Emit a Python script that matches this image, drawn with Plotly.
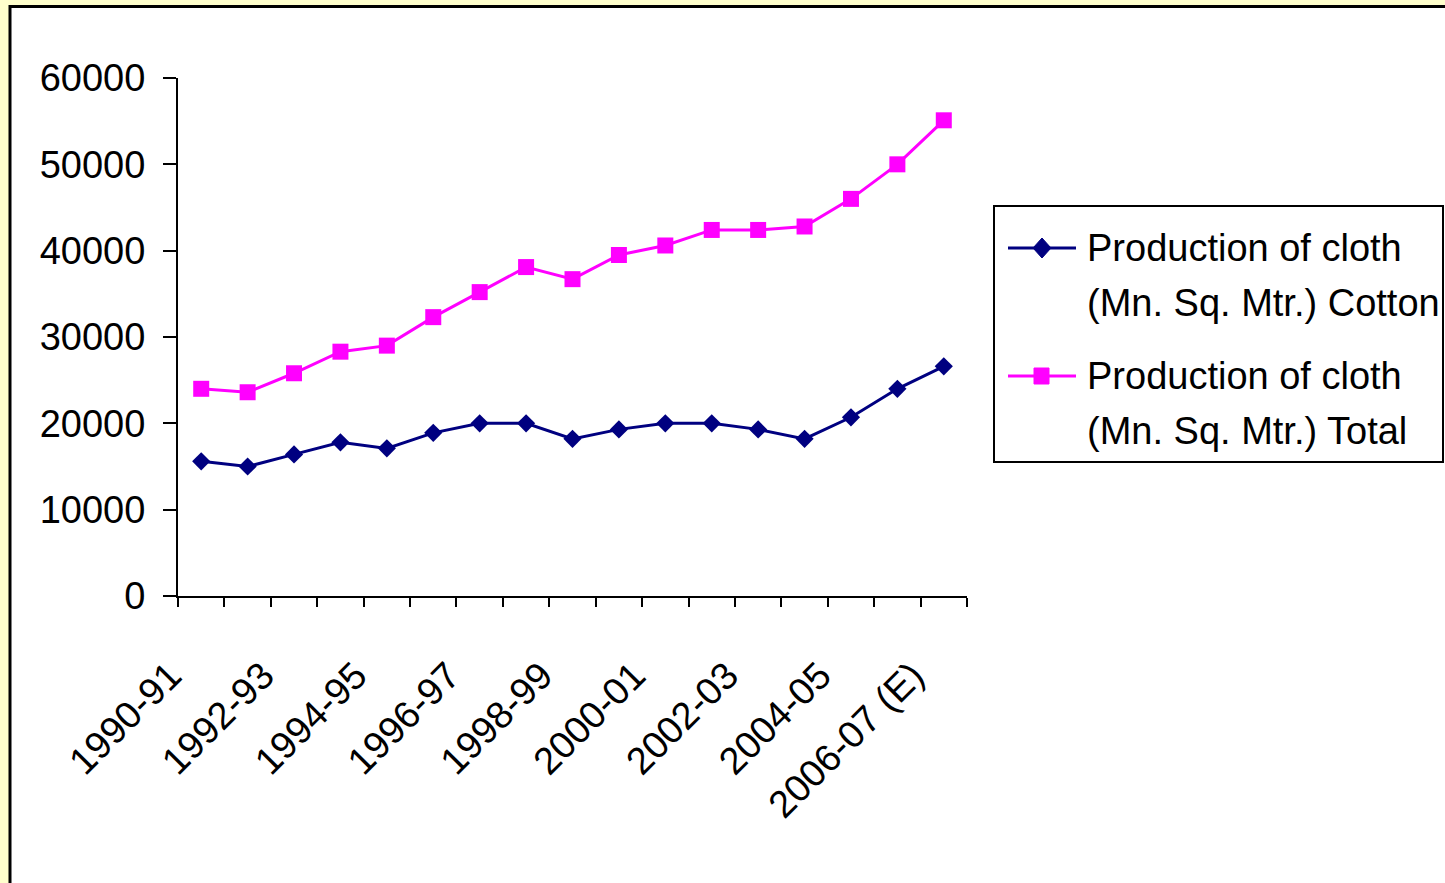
import plotly.graph_objects as go

categories = ["1990-91", "1991-92", "1992-93", "1993-94", "1994-95", "1995-96",
              "1996-97", "1997-98", "1998-99", "1999-00", "2000-01", "2001-02",
              "2002-03", "2003-04", "2004-05", "2005-06", "2006-07 (E)"]
cotton = [15600, 15000, 16400, 17800, 17100, 18900, 20000, 20000, 18200,
          19300, 20000, 20000, 19300, 18200, 20700, 24000, 26600]
total = [24000, 23600, 25800, 28300, 29000, 32300, 35200, 38100, 36700,
         39500, 40600, 42400, 42400, 42800, 46000, 50000, 55100]
tick_labels = [c if i % 2 == 0 else "" for i, c in enumerate(categories)]
y_ticks = [0, 10000, 20000, 30000, 40000, 50000, 60000]
series_names = ["Production of cloth<br>(Mn. Sq. Mtr.) Cotton",
                "Production of cloth<br>(Mn. Sq. Mtr.) Total"]

W, H = 1445, 883
L, R, T, B = 178, 967, 78, 596
FONT = "Liberation Sans, Arial, sans-serif"
NAVY = "#000080"
MAGENTA = "#FF00FF"


def px(x):
    return (x - L) / (R - L)


def py(y):
    return (B - y) / (B - T)


fig = go.Figure()
fig.add_trace(go.Scatter(x=categories, y=cotton, mode="lines+markers",
                         line=dict(color=NAVY, width=3),
                         marker=dict(symbol="diamond", size=14, color=NAVY),
                         showlegend=False, cliponaxis=False))
fig.add_trace(go.Scatter(x=categories, y=total, mode="lines+markers",
                         line=dict(color=MAGENTA, width=3),
                         marker=dict(symbol="square", size=16, color=MAGENTA),
                         showlegend=False, cliponaxis=False))

shapes = [
    # white slide frame
    dict(type="rect", xref="paper", yref="paper", layer="below",
         x0=px(10), x1=px(1600), y0=py(6.5), y1=py(1000),
         fillcolor="white", line=dict(color="black", width=3)),
    # legend box
    dict(type="rect", xref="paper", yref="paper",
         x0=px(994), x1=px(1443), y0=py(206), y1=py(462),
         fillcolor="white", line=dict(color="black", width=2), layer="below"),
]
annotations = []
legend_rows = [(248, NAVY, "diamond"), (376, MAGENTA, "square")]
for (yc, col, sym), name in zip(legend_rows, series_names):
    shapes.append(dict(type="line", xref="paper", yref="paper",
                       x0=px(1008), x1=px(1076), y0=py(yc), y1=py(yc),
                       line=dict(color=col, width=3)))
    if sym == "diamond":
        path = (f"M {px(1042)},{py(yc-10)} L {px(1051)},{py(yc)} "
                f"L {px(1042)},{py(yc+10)} L {px(1033)},{py(yc)} Z")
        shapes.append(dict(type="path", xref="paper", yref="paper", path=path,
                           fillcolor=col, line=dict(color=col, width=1)))
    else:
        shapes.append(dict(type="rect", xref="paper", yref="paper",
                           x0=px(1034), x1=px(1049), y0=py(yc - 8), y1=py(yc + 8),
                           fillcolor=col, line=dict(color=col, width=1)))
    l1, l2 = name.split("<br>")
    for k, line_text in enumerate([l1, l2]):
        annotations.append(dict(xref="paper", yref="paper", x=px(1085),
                                y=py(yc + 55 * k), xanchor="left", yanchor="middle",
                                text=line_text, showarrow=False,
                                font=dict(family=FONT, size=38, color="black")))

fig.update_layout(
    width=W, height=H,
    margin=dict(l=L, r=W - R, t=T, b=H - B),
    paper_bgcolor="#FFFFCC",
    plot_bgcolor="rgba(0,0,0,0)",
    showlegend=False,
    shapes=shapes,
    annotations=annotations,
    font=dict(family=FONT, size=38, color="black"),
    xaxis=dict(type="category", range=[-0.5, 16.5], tickmode="array",
               tickvals=categories, ticktext=tick_labels, tickson="boundaries",
               ticks="outside", ticklen=9, tickwidth=2, tickcolor="black",
               tickangle=-45, showline=True, linewidth=2, linecolor="black",
               showgrid=False, zeroline=False,
               ticklabelstandoff=40, ticklabelshift=-31,
               tickfont=dict(family=FONT, size=38, color="black")),
    yaxis=dict(range=[0, 60000], tickmode="array", tickvals=y_ticks,
               ticktext=[str(v) for v in y_ticks],
               ticks="outside", ticklen=13, tickwidth=2, tickcolor="black",
               showline=True, linewidth=2, linecolor="black",
               showgrid=False, zeroline=False, ticklabelstandoff=10,
               tickfont=dict(family=FONT, size=38, color="black")),
)

fig.write_html("out.html", config={"displayModeBar": False},
               post_script="document.body.style.margin='0';document.body.style.overflow='hidden';")
